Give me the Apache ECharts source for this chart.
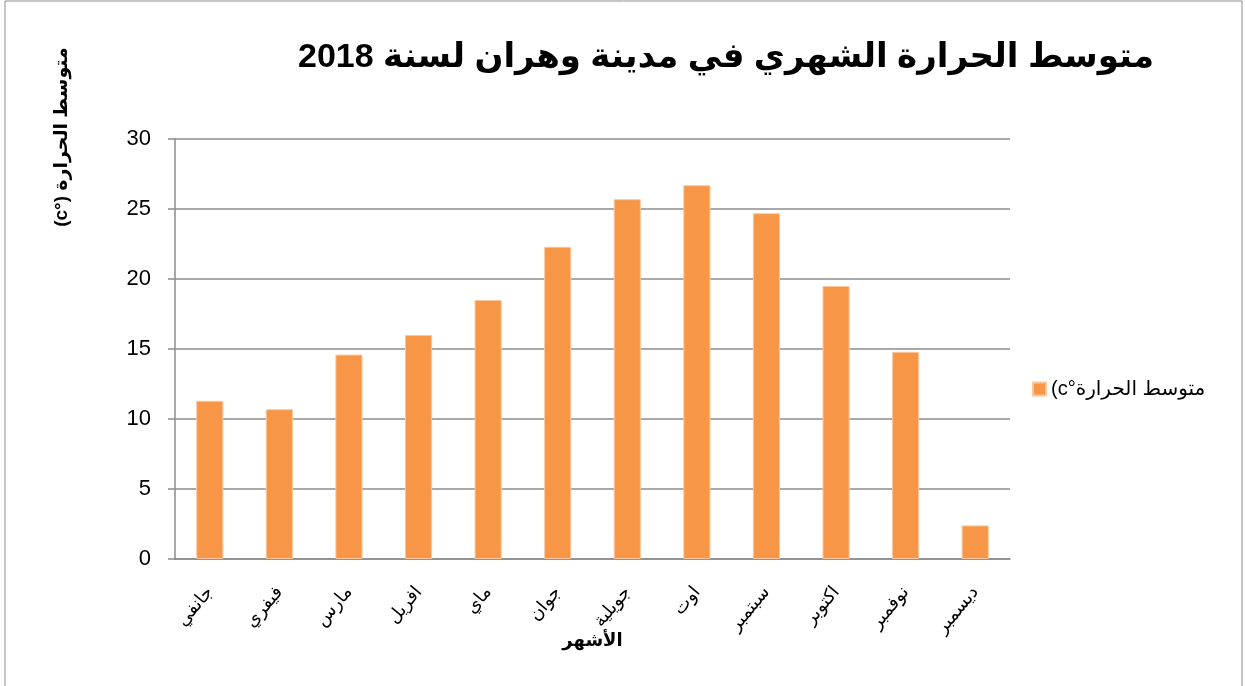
<!DOCTYPE html>
<html>
<head>
<meta charset="utf-8">
<style>
  html, body { margin: 0; padding: 0; background: #fff; }
  #chart { width: 1245px; height: 686px; }
</style>
<script src="https://cdn.jsdelivr.net/npm/echarts@6/dist/echarts.min.js"></script>
</head>
<body>
<div id="chart"></div>
<script>
// months (French names in Arabic script, as in the source sheet)
const months = ['جانفي', 'فيفري', 'مارس', 'افريل', 'ماي', 'جوان', 'جويلية', 'اوت', 'سبتمبر', 'اكتوبر', 'نوفمبر', 'ديسمبر'];
const temps = [11.3, 10.7, 14.6, 16.0, 18.5, 22.3, 25.7, 26.7, 24.7, 19.5, 14.8, 2.4];
const yTicks = [0, 5, 10, 15, 20, 25, 30];

const titleText = 'متوسط الحرارة الشهري في مدينة وهران لسنة 2018';
// canvas lays text out left-to-right, so the latin unit is put first
const seriesName = '(c°متوسط الحرارة';
const yName = '(c°) متوسط الحرارة';
const xName = 'الأشهر';

const font = 'Liberation Sans, Arial, DejaVu Sans, sans-serif';

const myChart = echarts.init(document.getElementById('chart'));

const option = {
  backgroundColor: '#fff',
  animation: false,
  title: {
    text: titleText,
    left: 721,
    top: 36,
    textAlign: 'center',
    textStyle: {
      fontFamily: font,
      fontWeight: 'bold',
      fontSize: 34,
      color: '#000',
    },
  },
  legend: {
    data: [seriesName],
    left: 1027,
    top: 374,
    itemWidth: 13,
    itemHeight: 13,
    itemGap: 8,
    icon: 'rect',
    textStyle: {
      fontFamily: font,
      fontSize: 20,
      color: '#000',
    },
  },
  grid: {
    left: 175,
    right: 235,
    top: 139,
    bottom: 127,
  },
  xAxis: {
    type: 'category',
    data: months,
    name: xName,
    nameLocation: 'middle',
    nameGap: 73,
    nameMoveOverlap: false,
    nameTextStyle: {
      fontFamily: font,
      fontWeight: 'bold',
      fontSize: 18,
      color: '#000',
    },
    axisLine: {
      lineStyle: { color: '#8c8c8c', width: 1.5 },
    },
    axisTick: { show: false },
    axisLabel: {
      rotate: 50,
      margin: 30,
      fontFamily: font,
      fontSize: 18,
      color: '#000',
    },
  },
  yAxis: {
    type: 'value',
    min: yTicks[0],
    max: yTicks[yTicks.length - 1],
    interval: 5,
    axisLine: {
      show: true,
      lineStyle: { color: '#8c8c8c', width: 1.5 },
    },
    axisTick: {
      show: true,
      length: 7,
      lineStyle: { color: '#8c8c8c', width: 1.5 },
    },
    axisLabel: {
      margin: 24,
      fontFamily: font,
      fontSize: 22,
      color: '#000',
    },
    splitLine: {
      lineStyle: { color: '#8c8c8c', width: 1.5 },
    },
  },
  series: [
    {
      name: seriesName,
      type: 'bar',
      data: temps,
      barWidth: '39%',
      itemStyle: {
        color: '#F79646',
        borderColor: '#fbc79e',
        borderWidth: 1,
      },
    },
  ],
  graphic: [
    {
      type: 'rect',
      shape: { x: 5, y: 1, width: 1237, height: 700 },
      style: { fill: 'none', stroke: '#8c8c8c', lineWidth: 1 },
      silent: true,
    },
    {
      type: 'text',
      x: 62,
      y: 137,
      rotation: Math.PI / 2,
      style: {
        text: yName,
        fontFamily: font,
        fontWeight: 'bold',
        fontSize: 19,
        fill: '#000',
        align: 'center',
        verticalAlign: 'middle',
      },
    },
  ],
};

myChart.setOption(option);
</script>
</body>
</html>
